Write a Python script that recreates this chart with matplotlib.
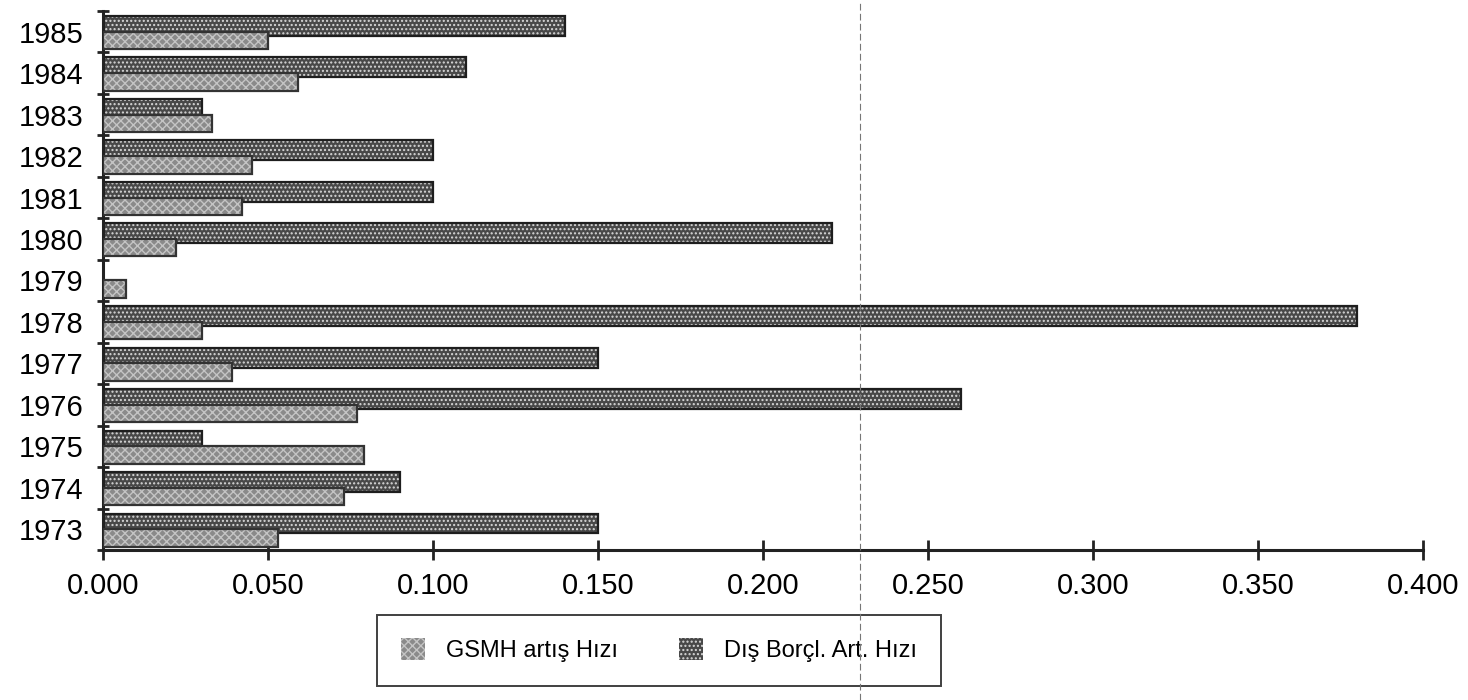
import numpy as np
import matplotlib.pyplot as plt
from matplotlib.lines import Line2D

years = ["1973", "1974", "1975", "1976", "1977", "1978", "1979",
         "1980", "1981", "1982", "1983", "1984", "1985"]
gsmh = [0.053, 0.073, 0.079, 0.077, 0.039, 0.030, 0.007,
        0.022, 0.042, 0.045, 0.033, 0.059, 0.050]
dis_borc = [0.150, 0.090, 0.030, 0.260, 0.150, 0.380, 0.0,
            0.221, 0.100, 0.100, 0.030, 0.110, 0.140]


def main():
    plt.rcParams['font.family'] = ['Liberation Sans', 'DejaVu Sans']
    plt.rcParams['hatch.linewidth'] = 1.0

    fig = plt.figure(figsize=(14.68, 7.0), dpi=100)
    ax = fig.add_axes([0.0702, 0.2143, 0.8992, 0.7700])

    y = np.arange(len(years))

    # Dis borc: upper bar, behind
    ax.barh(y + 0.14, dis_borc, height=0.48, color="#484848", hatch="....",
            edgecolor="#d8d8d8", linewidth=0, zorder=2)
    ax.barh(y + 0.14, dis_borc, height=0.48, fill=False, edgecolor="#1e1e1e",
            linewidth=1.6, zorder=2.1)
    # GSMH: lower bar, in front
    ax.barh(y - 0.21, gsmh, height=0.42, color="#8a8a8a", hatch="xxxx",
            edgecolor="#c4c4c4", linewidth=0, zorder=3)
    ax.barh(y - 0.21, gsmh, height=0.42, fill=False, edgecolor="#333333",
            linewidth=1.6, zorder=3.1)

    ax.set_xlim(0, 0.4)
    ax.set_ylim(-0.5, len(years) - 0.5)

    ax.set_yticks(y)
    ax.set_yticklabels(years)
    ax.set_yticks(np.arange(len(years) + 1) - 0.5, minor=True)
    ax.tick_params(axis="y", which="major", length=0, labelsize=21, pad=14)
    ax.tick_params(axis="y", which="minor", length=9, width=2,
                   direction="inout", color="#222222")

    ticks = np.arange(0, 0.401, 0.05)
    ax.set_xticks(ticks)
    ax.set_xticklabels([f"{v:.3f}" for v in ticks])
    ax.tick_params(axis="x", length=14, width=2, direction="inout",
                   labelsize=21, pad=9, color="#222222")

    for s in ["top", "right"]:
        ax.spines[s].set_visible(False)
    for s in ["left", "bottom"]:
        ax.spines[s].set_linewidth(2.2)
        ax.spines[s].set_color("#222222")

    handles = [
        plt.Rectangle((0, 0), 1, 1, facecolor="#8a8a8a", hatch="xxxx",
                      edgecolor="#c4c4c4", linewidth=0),
        plt.Rectangle((0, 0), 1, 1, facecolor="#484848", hatch="....",
                      edgecolor="#d8d8d8", linewidth=0),
    ]
    leg = fig.legend(handles, ["GSMH artış Hızı", "Dış Borçl. Art. Hızı"],
                     loc="center", bbox_to_anchor=(0.449, 0.071), ncol=2,
                     fontsize=17, frameon=True, fancybox=False,
                     handlelength=1.0, handleheight=1.0, borderpad=1.0,
                     columnspacing=2.6, handletextpad=0.9)
    leg.get_frame().set_edgecolor("#111111")
    leg.get_frame().set_linewidth(1.4)

    # crease line from the scanned page
    fig.add_artist(Line2D([0.586, 0.586], [0.0, 1.0], color="#777777",
                          linewidth=0.8, linestyle=(0, (6, 3)), zorder=10))

    fig.savefig("out.png", dpi=100)


if __name__ == "__main__":
    main()
